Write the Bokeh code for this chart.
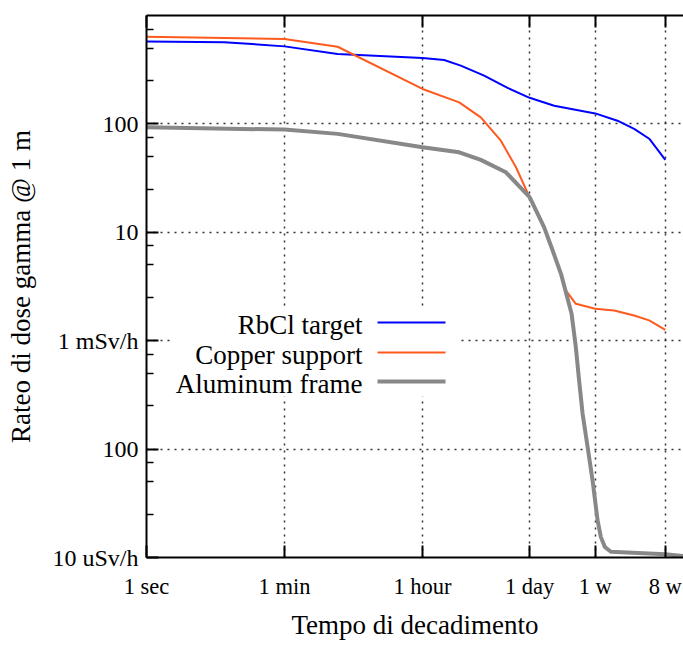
import math
from bokeh.plotting import figure
from bokeh.models import FixedTicker, LogAxis, Label, BoxAnnotation
from bokeh.embed import file_html
from bokeh.resources import INLINE

# ---- data (time in seconds, dose rate in mSv/h) ----
series_names = ["RbCl target", "Copper support", "Aluminum frame"]

t_rbcl = [1, 10, 60, 290, 3600, 6840, 11200, 22400, 44900, 86400, 179000,
          604800, 1170000, 1920000, 3000000, 4838400]
v_rbcl = [577, 568, 519, 441, 406, 389, 345, 279, 215, 174, 147,
          125, 107, 90, 73, 46.6]

t_copper = [1, 60, 290, 3600, 10700, 20300, 36800, 57400, 86400, 133000, 171000,
            253000, 340000, 604800, 1060000, 1920000, 3000000, 4838400]
v_copper = [638, 607, 515, 210, 158, 115, 70, 40, 21, 11.1, 6.8,
            2.91, 2.19, 1.97, 1.90, 1.71, 1.54, 1.26]

t_alu = [1, 60, 290, 3600, 10700, 20300, 42700, 86400, 133000, 171000, 219000,
         300000, 340000, 375000, 416000, 482000, 559000, 648000, 714000, 805000,
         962000, 4838400, 8300000]
v_alu = [93, 88.6, 80.9, 60.8, 54.7, 46.6, 35.8, 21.1, 11.1, 6.8, 4.14,
         1.77, 0.873, 0.43, 0.212, 0.105, 0.0515, 0.0221, 0.0155, 0.0125,
         0.0113, 0.0107, 0.0103]

x_tick_values = [1, 60, 3600, 86400, 604800, 4838400]
x_tick_labels = ["1 sec", "1 min", "1 hour", "1 day", "1 w", "8 w"]
y_tick_values = [0.01, 0.1, 1, 10, 100]
y_tick_labels = ["10 uSv/h", "100", "1 mSv/h", "10", "100"]
y_minor_mult = [2.5, 5, 7.5]

x_title = "Tempo di decadimento"
y_title = "Rateo di dose gamma @ 1 m"

# ---- layout / style ----
XMIN, XMAX = 1, 8.3e6
YMIN, YMAX = 0.01, 1000
W, H = 683, 646
FL, FR, FT, FB = 146, 683, 15, 557
FONT = "Liberation Serif"
colors = ["#0000ff", "#ff5a1e", "#888888"]
widths = [2, 2, 4]


def x_at(px):
    lo, hi = math.log10(XMIN), math.log10(XMAX)
    return 10 ** (lo + (px - FL) / (FR - FL) * (hi - lo))


def y_at(py):
    lo, hi = math.log10(YMIN), math.log10(YMAX)
    return 10 ** (hi - (py - FT) / (FB - FT) * (hi - lo))


p = figure(width=W, height=H, x_axis_type="log", y_axis_type="log",
           x_range=(XMIN, XMAX), y_range=(YMIN, YMAX),
           output_backend="svg", toolbar_location=None,
           min_border_left=FL, min_border_right=0,
           min_border_top=FT, min_border_bottom=H - FB)
p.outline_line_color = None
p.background_fill_color = "white"
p.border_fill_color = "white"

y_minor = [m * 10 ** e for e in range(-2, 3) for m in y_minor_mult]
xticker = FixedTicker(ticks=x_tick_values, minor_ticks=[])
yticker = FixedTicker(ticks=y_tick_values, minor_ticks=y_minor)

xa = p.xaxis[0]
ya = p.yaxis[0]
xa.ticker = xticker
ya.ticker = yticker
p.xgrid.ticker = xticker
p.ygrid.ticker = yticker
xa.major_label_overrides = {v: l for v, l in zip(x_tick_values, x_tick_labels)}
ya.major_label_overrides = {v: l for v, l in zip(y_tick_values, y_tick_labels)}

for ax in (xa, ya):
    ax.axis_line_width = 2
    ax.axis_line_color = "black"
    ax.major_tick_in = 12
    ax.major_tick_out = 0
    ax.major_tick_line_width = 2
    ax.major_tick_line_color = "black"
    ax.minor_tick_in = 7
    ax.minor_tick_out = 0
    ax.minor_tick_line_width = 1.5
    ax.minor_tick_line_color = "black"
    ax.major_label_text_font = FONT
    ax.major_label_text_color = "black"
    ax.axis_label_text_font = FONT
    ax.axis_label_text_font_size = "27px"
    ax.axis_label_text_font_style = "normal"
    ax.axis_label_text_color = "black"

xa.major_label_text_font_size = "22.5px"
ya.major_label_text_font_size = "24px"
xa.axis_label = x_title
ya.axis_label = y_title
xa.major_label_standoff = 16
xa.axis_label_standoff = 8
ya.major_label_standoff = 8
ya.axis_label_standoff = 13

top = LogAxis(ticker=xticker, axis_line_width=2, axis_line_color="black",
              major_tick_in=12, major_tick_out=0, major_tick_line_width=2,
              major_tick_line_color="black", minor_tick_in=0, minor_tick_out=0,
              major_label_text_font_size="0px", major_label_standoff=0,
              major_label_overrides={v: "" for v in x_tick_values})
p.add_layout(top, "above")

for g in (p.xgrid[0], p.ygrid[0]):
    g.grid_line_color = "#333333"
    g.grid_line_width = 1.5
    g.grid_line_dash = "2 5"

series = [(t_rbcl, v_rbcl), (t_copper, v_copper), (t_alu, v_alu)]
for (t, v), c, w in zip(series, colors, widths):
    p.line(t, v, line_color=c, line_width=w, line_join="round")

# ---- legend (text on the left, sample on the right) ----
p.add_layout(BoxAnnotation(left=x_at(170), right=x_at(457), top=y_at(308), bottom=y_at(396),
                           fill_color="white", fill_alpha=1.0, line_color=None, level="annotation"))
text_mid = [324, 354, 383]
line_mid = [322, 352, 381]
for name, c, w, tm, lm in zip(series_names, colors, widths, text_mid, line_mid):
    p.add_layout(Label(x=x_at(362), y=y_at(tm), text=name, text_align="right",
                       text_baseline="middle", text_font=FONT, text_font_size="27px",
                       text_color="black"))
    p.add_layout(BoxAnnotation(left=x_at(377), right=x_at(445),
                               top=y_at(lm - w / 2), bottom=y_at(lm + w / 2),
                               fill_color=c, fill_alpha=1.0, line_color=None))

open("out.html", "w").write(file_html(p, INLINE))
